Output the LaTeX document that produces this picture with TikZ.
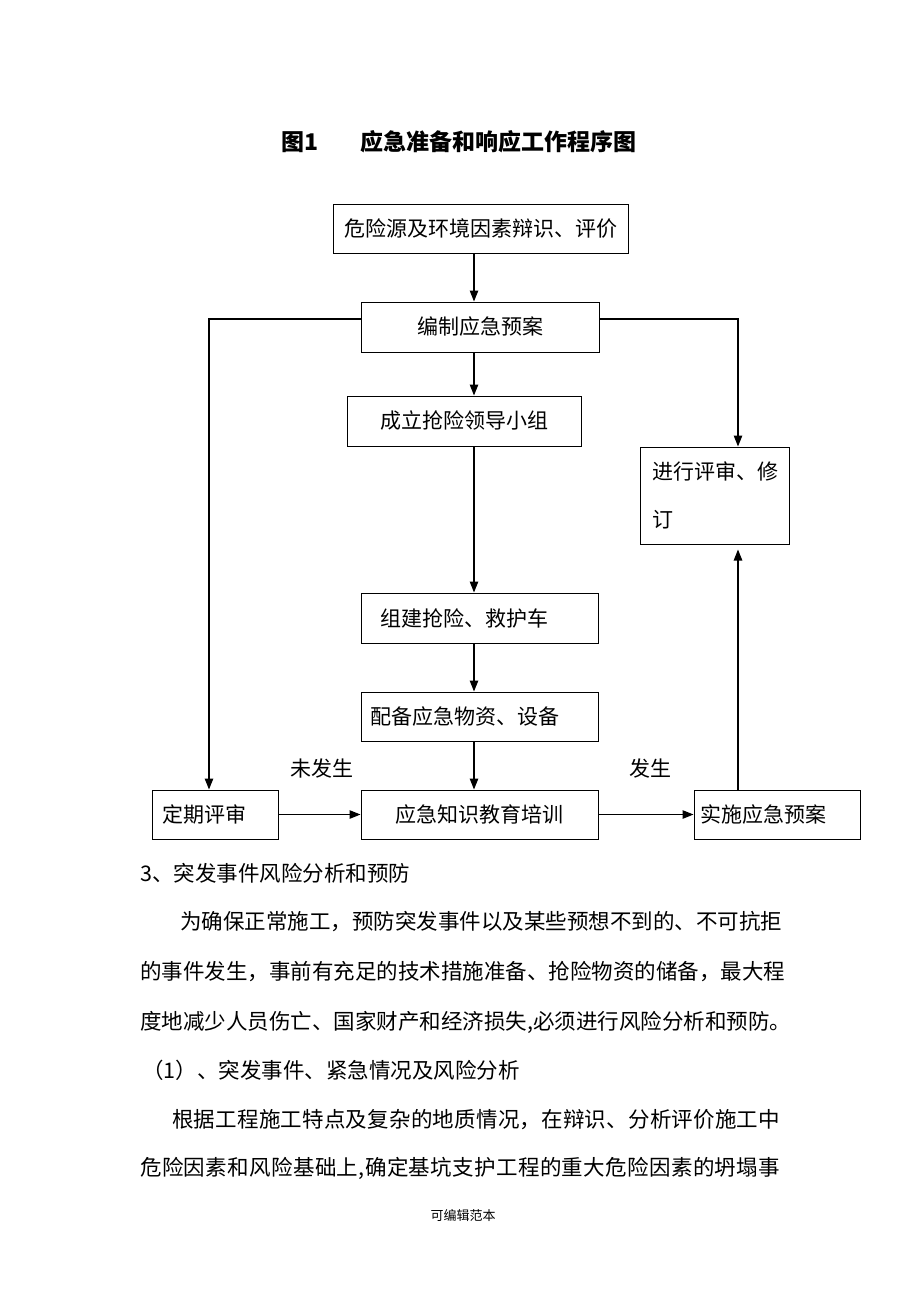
\documentclass[tikz,border=0pt]{standalone}
\usepackage{fontspec}
\setmainfont{Noto Sans CJK SC}
\usetikzlibrary{arrows.meta}
\ExplSyntaxOn
\NewDocumentCommand \spreadline { m m } { \hbox_to_wd:nn {#1} { \tl_map_inline:nn {#2} { ##1 \hfil } \unskip } }
\ExplSyntaxOff
\newcommand\boxfont{\fontsize{21pt}{25pt}\selectfont}
\newcommand\boxfontb{\fontsize{21pt}{48pt}\selectfont}
\newcommand\parafont{\fontsize{21.5pt}{26pt}\selectfont}
\newcommand\titlefont{\fontsize{23pt}{27pt}\selectfont\bfseries}
\newcommand\footfont{\fontsize{13pt}{16pt}\selectfont}
\tikzset{
  box/.style={draw=black, line width=1pt, inner sep=0pt, font=\boxfont, minimum height=49pt},
  arr/.style={line width=1.1pt, -{Triangle[length=11pt,width=8.5pt]}},
  lbl/.style={font=\boxfont, inner sep=0pt},
  para/.style={anchor=west, inner sep=0pt, font=\parafont},
}
\begin{document}
\begin{tikzpicture}[x=1pt,y=-1pt]
\useasboundingbox (0,0) rectangle (920,1302);
\fill[white] (0,0) rectangle (920,1302);
% title
\node[font=\titlefont, inner sep=0pt] (t1) at (300,142) {图1};
\node[font=\titlefont, inner sep=0pt] (t2) at (498,142) {应急准备和响应工作程序图};
% boxes
\node[box, minimum width=295pt] (b1) at (480.5,228.5) {危险源及环境因素辩识、评价};
\node[box, minimum width=238pt, minimum height=50pt] (b2) at (480,327) {编制应急预案};
\node[box, minimum width=234pt, minimum height=50pt] (b3) at (464,421) {成立抢险领导小组};
\node[box, text width=199pt, align=left, inner xsep=19pt, minimum height=50pt] (b4) at (479.5,618) {组建抢险、救护车};
\node[box, text width=219pt, align=left, inner xsep=9pt] (b5) at (479.5,716.5) {配备应急物资、设备};
\node[box, minimum width=237pt] (b6) at (479.5,814.5) {应急知识教育培训};
\node[box, text width=106pt, align=left, inner xsep=10pt] (b7) at (215,814.5) {定期评审};
\node[box, text width=154pt, align=left, inner xsep=6pt] (b8) at (777,814.5) {实施应急预案};
\node[box, text width=125pt, align=left, inner xsep=12pt, minimum height=97pt, font=\boxfontb] (b9) at (714.5,495.5) {进行评审、修\\订};
% labels
\node[lbl] (l1) at (322,768) {未发生};
\node[lbl] (l2) at (650,768) {发生};
% connectors
\coordinate (ax) at (474,0);
\coordinate (L) at (209,319);
\coordinate (R) at (738,319);
\draw[arr] (b1.south -| ax) -- (b2.north -| ax);
\draw[arr] (b2.south -| ax) -- (b3.north -| ax);
\draw[arr] (b3.south -| ax) -- (b4.north -| ax);
\draw[arr] (b4.south -| ax) -- (b5.north -| ax);
\draw[arr] (b5.south -| ax) -- (b6.north -| ax);
\draw[arr] (b2.west |- L) -- (L) -- (L |- b7.north);
\draw[arr] (b2.east |- R) -- (R) -- (R |- b9.north);
\draw[arr, shorten >=5pt] (b8.north -| R) -- (b9.south -| R);
\draw[arr] (b7.east) -- (b6.west);
\draw[arr] (b6.east) -- (b8.west);
% text below
\node[para] (p0) at (140,873) {3、突发事件风险分析和预防};
\node[para] (p1) at (180,922) {\spreadline{600pt}{为确保正常施工，预防突发事件以及某些预想不到的、不可抗拒}};
\node[para] (p2) at (140,972) {\spreadline{640pt}{的事件发生，事前有充足的技术措施准备、抢险物资的储备，最大程}};
\node[para] (p3) at (140,1022) {\spreadline{640pt}{度地减少人员伤亡、国家财产和经济损失,必须进行风险分析和预防。}};
\node[para] (p4) at (142,1070) {（1）、突发事件、紧急情况及风险分析};
\node[para] (p5) at (172,1120) {\spreadline{608pt}{根据工程施工特点及复杂的地质情况，在辩识、分析评价施工中}};
\node[para] (p6) at (140,1168) {\spreadline{640pt}{危险因素和风险基础上,确定基坑支护工程的重大危险因素的坍塌事}};
\node[font=\footfont, inner sep=0pt] (f) at (463,1216) {可编辑范本};
\end{tikzpicture}
\end{document}
